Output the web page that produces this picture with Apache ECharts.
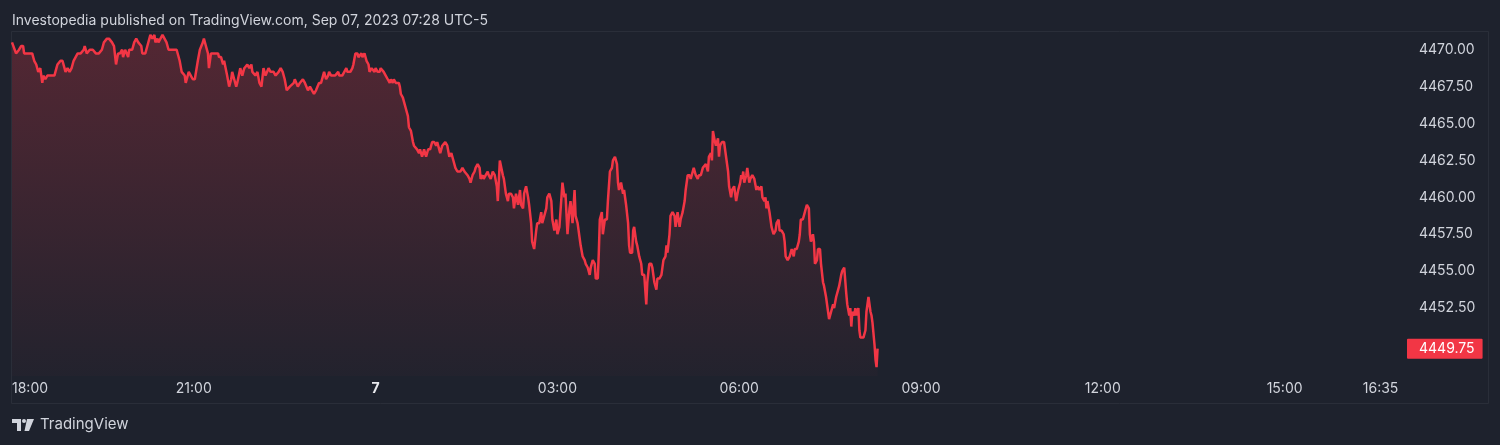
<!DOCTYPE html>
<html><head><meta charset="utf-8">
<script src="https://cdn.jsdelivr.net/npm/echarts@6/dist/echarts.min.js"></script>
<style>html,body{margin:0;padding:0;background:#1e222d;}#c{width:1500px;height:445px;}</style>
</head><body><div id="c"></div>
<script>
// minutes after the 18:00 session open (Sep 6, 2023)
const minutes = [0,4,7,9,11,12,14,15,18,20,22,24,26,28,30,31,33,35,39,42,44,45,48,50,52,53,55,57,59,61,63,65,68,71,72,74,77,80,83,86,89,91,94,96,99,101,103,105,107,109,110,112,115,116,119,121,123,125,128,129,132,134,137,139,141,142,144,145,147,149,151,153,155,157,161,163,166,168,171,172,175,177,179,181,184,186,189,190,192,194,195,197,200,204,205,207,209,210,213,215,217,218,220,222,223,226,228,230,233,235,237,238,241,243,245,247,249,251,254,256,259,261,264,266,268,270,272,275,276,279,280,283,285,288,290,293,295,297,299,301,304,306,308,309,311,313,314,316,318,320,323,324,327,329,331,332,335,337,338,340,342,343,346,347,349,351,353,354,356,359,360,362,364,365,368,370,372,374,375,377,378,380,383,384,385,387,388,390,392,393,395,397,398,401,403,404,406,408,410,412,414,416,418,420,421,424,426,429,431,433,435,436,439,441,444,446,448,451,453,454,456,458,459,461,463,464,466,467,469,471,472,474,476,478,480,481,483,486,487,489,491,492,494,496,497,499,501,503,504,506,507,509,511,512,514,515,517,519,520,522,524,525,527,529,530,532,534,535,537,539,540,542,544,545,547,548,550,552,553,555,557,558,560,562,563,565,567,568,570,572,573,575,577,578,580,581,582,584,585,587,589,590,592,594,595,597,599,600,601,603,605,606,608,610,611,612,614,615,616,618,619,621,623,624,626,628,629,631,633,634,636,638,639,641,643,645,647,648,649,651,652,654,656,657,659,661,662,664,666,667,669,671,672,674,675,677,679,680,682,684,685,687,689,690,692,693,694,696,697,699,700,701,703,705,707,709,710,712,713,715,717,719,721,722,723,724,725,727,728,730,731,733,735,737,738,740,742,743,745,746,747,748,750,752,754,756,757,759,760,762,764,765,766,768,770,772,774,775,777,779,780,781,783,785,787,789,790,791,793,794,795,797,798,800,801,803,804,806,808,809,811,813,814,816,818,819,821,822,824,826,827,829,830,831,832,834,835,836,838,839,840,843,845,846,848,850,851,852,854,855,856,857];
const prices = [4470.5,4469.75,4470.0,4470.25,4470.25,4469.75,4469.75,4469.75,4469.75,4469.75,4469.25,4469.0,4468.5,4468.75,4467.75,4468.25,4468.0,4468.25,4468.25,4468.25,4468.75,4469.0,4469.25,4469.25,4468.75,4468.5,4468.75,4468.5,4468.75,4469.25,4469.5,4469.75,4469.75,4470.0,4470.25,4469.75,4470.0,4470.0,4469.75,4469.75,4470.0,4470.5,4470.75,4470.75,4470.5,4470.25,4469.0,4469.75,4469.75,4470.0,4469.5,4470.0,4469.5,4470.0,4470.0,4470.5,4470.75,4470.5,4470.25,4469.75,4469.75,4470.25,4471.0,4470.75,4471.0,4470.5,4470.75,4470.5,4470.75,4471.0,4470.75,4470.5,4470.0,4470.0,4470.0,4470.0,4469.25,4468.5,4468.25,4467.75,4468.5,4468.25,4468.0,4468.0,4469.25,4470.0,4470.5,4470.75,4470.25,4469.75,4468.75,4469.75,4469.75,4469.75,4469.5,4469.5,4469.0,4469.25,4468.25,4467.5,4468.0,4468.5,4468.0,4467.5,4467.75,4468.75,4468.25,4468.75,4469.0,4468.75,4469.0,4468.5,4468.25,4468.5,4467.75,4467.5,4468.75,4468.25,4468.75,4468.5,4468.5,4468.25,4468.5,4468.75,4468.5,4468.0,4467.25,4467.5,4467.5,4467.75,4468.0,4467.5,4467.75,4468.0,4467.75,4467.25,4467.5,4467.25,4467.0,4467.25,4467.75,4467.75,4468.25,4468.5,4468.0,4468.25,4468.5,4468.25,4468.25,4468.25,4468.5,4468.25,4468.25,4468.5,4468.75,4468.5,4468.5,4468.75,4469.0,4469.75,4469.75,4469.5,4469.75,4469.5,4469.75,4469.25,4469.0,4468.5,4468.75,4468.5,4468.75,4468.5,4468.5,4468.75,4468.5,4468.25,4468.0,4467.75,4468.0,4467.75,4468.0,4467.75,4467.75,4467.5,4467.0,4466.75,4466.5,4466.0,4465.5,4464.75,4464.5,4463.75,4463.5,4463.25,4463.0,4463.25,4462.75,4463.25,4462.75,4463.25,4463.25,4463.75,4463.75,4463.5,4463.75,4463.0,4463.5,4463.75,4463.5,4462.75,4463.0,4462.75,4462.0,4461.75,4461.75,4462.0,4461.75,4461.5,4461.25,4461.0,4461.5,4461.75,4462.0,4462.25,4462.0,4461.25,4461.5,4461.25,4461.5,4461.75,4461.5,4461.25,4461.75,4461.5,4460.75,4459.75,4462.5,4461.5,4461.25,4460.25,4459.75,4460.25,4460.25,4460.0,4459.25,4460.25,4459.5,4460.5,4459.5,4459.25,4460.25,4460.75,4460.0,4459.5,4458.25,4457.0,4456.5,4457.75,4458.25,4458.25,4459.0,4458.25,4458.75,4459.25,4460.0,4460.25,4459.75,4458.5,4457.75,4458.5,4457.5,4458.0,4460.0,4461.0,4460.0,4460.25,4457.5,4459.25,4459.75,4458.25,4460.5,4458.75,4458.25,4457.25,4456.75,4456.0,4455.75,4455.5,4455.25,4454.75,4455.25,4455.75,4455.5,4454.5,4454.5,4456.25,4458.5,4459.0,4457.5,4458.5,4458.5,4459.75,4461.75,4462.0,4462.5,4462.75,4462.25,4461.0,4460.5,4461.0,4460.25,4460.5,4459.5,4458.25,4456.75,4456.25,4456.25,4457.75,4458.0,4457.0,4456.75,4456.0,4455.5,4454.75,4454.75,4452.75,4454.25,4455.5,4455.5,4455.25,4454.25,4453.75,4454.5,4454.5,4454.75,4455.75,4456.0,4456.75,4456.25,4457.5,4458.75,4459.0,4458.75,4458.0,4459.0,4458.0,4458.5,4459.0,4459.75,4460.5,4461.5,4461.5,4461.25,4461.75,4462.0,4461.5,4461.25,4461.5,4461.5,4462.0,4462.0,4462.25,4461.75,4462.75,4463.0,4462.5,4464.5,4463.75,4463.5,4464.0,4462.75,4463.5,4463.75,4463.75,4462.75,4461.75,4460.75,4460.0,4460.5,4460.75,4459.75,4460.5,4461.0,4461.5,4461.25,4461.75,4461.0,4461.5,4462.0,4461.0,4461.25,4461.5,4461.25,4460.5,4460.75,4460.5,4460.75,4460.0,4459.75,4460.0,4459.25,4459.75,4459.0,4458.0,4457.5,4457.75,4458.25,4458.5,4457.75,4457.75,4457.5,4457.0,4456.0,4455.75,4456.0,4456.5,4456.0,4456.5,4456.5,4457.0,4457.5,4458.5,4458.5,4459.0,4459.5,4459.25,4457.5,4457.0,4457.5,4457.0,4455.5,4455.75,4456.5,4456.5,4455.5,4454.25,4454.0,4453.25,4452.25,4451.75,4452.25,4452.75,4452.5,4453.25,4453.75,4454.0,4454.75,4455.0,4455.25,4453.5,4452.75,4452.0,4452.5,4451.25,4452.25,4452.0,4452.5,4452.0,4452.5,4451.0,4450.5,4450.5,4451.0,4452.25,4453.25,4452.25,4452.0,4451.5,4450.0,4449.0,4448.5,4449.75];
const timeTickHours = [0, 3, 6, 9, 12, 15, 18, 21, 22 + 35 / 60];
const timeTickLabels = ['18:00', '21:00', '7', '03:00', '06:00', '09:00', '12:00', '15:00', '16:35'];
const priceTicks = [4452.5, 4455, 4457.5, 4460, 4462.5, 4465, 4467.5, 4470];
const titleText = 'Investopedia published on TradingView.com, Sep 07, 2023 07:28 UTC-5';
const brandText = 'TradingView';

const lastPrice = prices[prices.length - 1];
const seriesData = minutes.map((m, i) => [m / 60, prices[i]]);
const RED = '#f23645';
const TXT = '#d1d4dc';
const FONT = 'Inter, "Noto Sans", sans-serif';
const yMin = 4447.9, yMax = 4471.2;

const chart = echarts.init(document.getElementById('c'), null, {renderer: 'canvas'});
chart.setOption({
  animation: false,
  backgroundColor: '#1e222d',
  textStyle: {fontFamily: FONT},
  title: {
    text: titleText, left: 7, top: 9,
    textStyle: {color: TXT, fontSize: 14, fontWeight: 'normal', fontFamily: FONT}
  },
  grid: {left: 12, right: 93, top: 32, bottom: 69, containLabel: false},
  xAxis: {
    type: 'value', min: 0, max: 23.02,
    axisLine: {show: false}, axisTick: {show: false}, splitLine: {show: false},
    axisLabel: {
      customValues: timeTickHours,
      alignMinLabel: 'left',
      margin: 6,
      color: TXT, fontSize: 14, fontFamily: FONT,
      formatter: function (v) {
        let idx = 0, best = 1e9;
        timeTickHours.forEach((t, i) => { const d = Math.abs(t - v); if (d < best) { best = d; idx = i; } });
        const s = timeTickLabels[idx];
        return s.indexOf(':') < 0 ? '{b|' + s + '}' : s;
      },
      rich: {b: {fontWeight: 'bold', color: '#e8e9ed', fontSize: 14, fontFamily: FONT}}
    }
  },
  yAxis: [{
    type: 'value', position: 'right', min: yMin, max: yMax,
    axisLine: {show: false}, axisTick: {show: false}, splitLine: {show: false},
    axisLabel: {
      customValues: priceTicks, margin: 12, color: TXT, fontSize: 14, fontFamily: FONT,
      formatter: v => v.toFixed(2)
    }
  }, {
    type: 'value', position: 'right', min: yMin, max: yMax,
    axisLine: {show: false}, axisTick: {show: false}, splitLine: {show: false},
    axisLabel: {
      customValues: [lastPrice], margin: 0, color: '#ffffff', fontSize: 14, fontFamily: FONT,
      backgroundColor: RED, padding: [3, 8, 3, 12], borderRadius: 1,
      formatter: v => v.toFixed(2)
    }
  }],
  series: [{
    type: 'line', data: seriesData, showSymbol: false, symbol: 'none',
    lineStyle: {color: RED, width: 2.5}, itemStyle: {color: RED},
    areaStyle: {
      color: new echarts.graphic.LinearGradient(0, 0, 0, 1, [
        {offset: 0, color: 'rgba(242,54,69,0.36)'},
        {offset: 1, color: 'rgba(242,54,69,0.03)'}
      ])
    }
  }],
  graphic: [
    {type: 'rect', silent: true, shape: {x: 11.5, y: 31.5, width: 1477, height: 372},
     style: {fill: 'none', stroke: '#2a2e39', lineWidth: 1}},
    {type: 'group', left: 12, top: 419, children: [
      {type: 'polygon', shape: {points: [[0,0],[9,0],[9,12],[5,12],[5,4],[0,4]]}, style: {fill: TXT}},
      {type: 'circle', shape: {cx: 12, cy: 2, r: 2}, style: {fill: TXT}},
      {type: 'polygon', shape: {points: [[15,0],[22,0],[17,12],[12.5,12]]}, style: {fill: TXT}}
    ]},
    {type: 'text', left: 40, top: 417, style: {text: brandText, fill: TXT, fontSize: 15, fontFamily: FONT}}
  ]
});
</script></body></html>
